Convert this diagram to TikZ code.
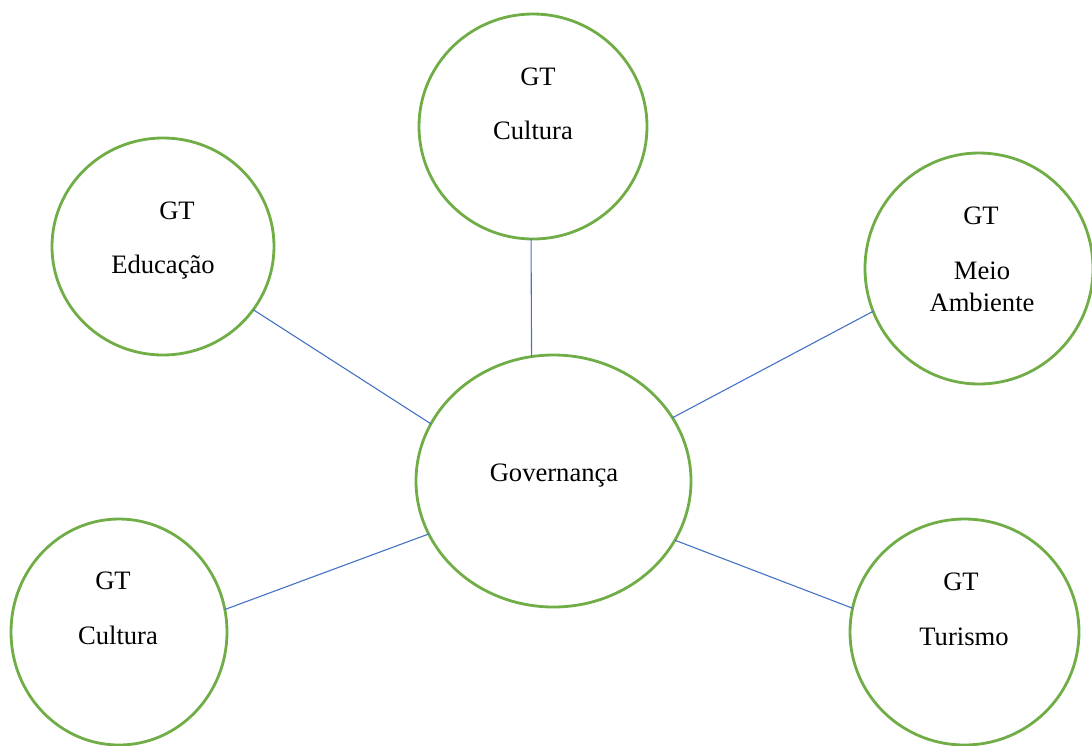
\documentclass[tikz,border=0pt]{standalone}
\usepackage{fontspec}
\setmainfont{Liberation Serif}
\usetikzlibrary{shapes.geometric}
\definecolor{ringgreen}{HTML}{70AD47}
\definecolor{linkblue}{HTML}{4472C4}

\begin{document}
\begin{tikzpicture}[x=0.5pt,y=-0.5pt,
  ring/.style={ellipse, draw=ringgreen, line width=1.4pt, inner sep=0pt, outer sep=0pt},
  gtext/.style={anchor=base, inner sep=0pt, font=\fontsize{13.3}{16}\selectfont},
  link/.style={draw=linkblue, line width=0.55pt},
]
\useasboundingbox (0,0) rectangle (1092,745);

% central hub and the five working groups around it
\node[ring, minimum width=137.5pt, minimum height=126pt]   (gov)   at (553.5,481) {};
\node[ring, minimum width=114pt,   minimum height=112.5pt] (cultT) at (533,126.5) {};
\node[ring, minimum width=111pt,   minimum height=108.5pt] (educ)  at (163,246.5) {};
\node[ring, minimum width=114pt,   minimum height=115.5pt] (meio)  at (979,268.5) {};
\node[ring, minimum width=108pt,   minimum height=113pt]   (cultB) at (119,632) {};
\node[ring, minimum width=114.5pt, minimum height=113pt]   (tur)   at (964.5,632) {};

% texts
\node[gtext] (govT)   at (554,481) {Governança};
\node[gtext] (cultTa) at (538,85)  {GT};
\node[gtext] (cultTb) at (533,139) {Cultura};
\node[gtext] (educa)  at (177,219) {GT};
\node[gtext] (educb)  at (163,273) {Educação};
\node[gtext] (meioa)  at (981,224) {GT};
\node[gtext] (meiob)  at (982,279) {Meio};
\node[gtext] (meioc)  at (982,311) {Ambiente};
\node[gtext] (cultBa) at (113,589) {GT};
\node[gtext] (cultBb) at (118,644) {Cultura};
\node[gtext] (tura)   at (961,590) {GT};
\node[gtext] (turb)   at (964,645) {Turismo};

% connectors
\draw[link] (cultT.269) -- (gov.100);
\draw[link] (educ.325)  -- (gov.155.3);
\draw[link] (meio.202.7) -- (gov.28.2);
\draw[link] (cultB.12.2) -- (gov.203.75);
\draw[link] (tur.168.1) -- (gov.334.5);
\end{tikzpicture}
\end{document}
